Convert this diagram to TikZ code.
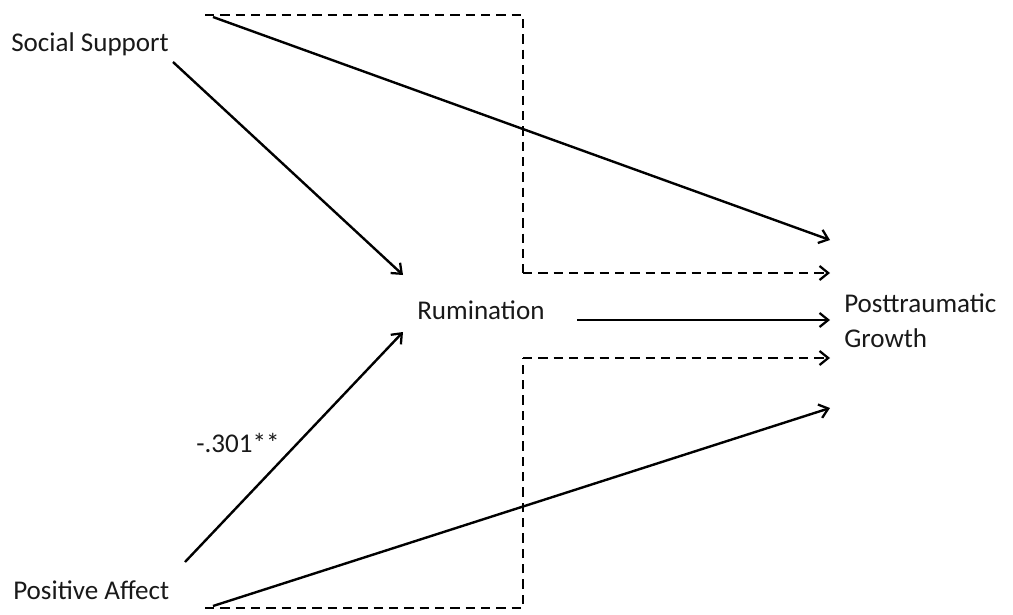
\documentclass[tikz,border=0pt]{standalone}
\usepackage{fontspec}
\setmainfont{Carlito}
\usetikzlibrary{arrows.meta}
\begin{document}
\begin{tikzpicture}[x=0.75pt,y=-0.75pt,
  lbl/.style={font=\fontsize{20.3}{24}\selectfont, text=black!90, inner sep=0pt},
  tip/.style={-{Straight Barb[length=6.5pt,width=10.5pt,line width=1.7pt]}},
  arr/.style={line width=1.8pt, tip},
  dline/.style={line width=1.8pt, dash pattern=on 7pt off 4.5pt}]
\useasboundingbox (0,0) rectangle (1013,614);
% labels
\node[lbl, anchor=west] (ss) at (11,44) {Social Support};
\node[lbl, anchor=west] (pa) at (13,590) {Positive Affect};
\node[lbl, anchor=west] (ru) at (417,310) {Rumination};
\node[lbl, anchor=west, align=left] (ptg) at (844,321) {Posttraumatic\\[2pt]Growth};
\node[lbl, anchor=west] (coef) at (196,443) {-.301**};
% connector endpoints
\coordinate (ssA) at (173,62);
\coordinate (ssB) at (213,17);
\coordinate (ssD) at (205,15);
\coordinate (tc) at (523,15);
\coordinate (tb) at (523,273);
\coordinate (paA) at (185,562);
\coordinate (paB) at (213,606);
\coordinate (paD) at (205,608);
\coordinate (bc) at (523,608);
\coordinate (bt) at (523,358);
\coordinate (ruOut) at (577,320);
\coordinate (ruIn1) at (403,275);
\coordinate (ruIn2) at (403,332);
\coordinate (pIn1) at (830,240);
\coordinate (pIn2) at (830,273);
\coordinate (pIn3) at (830,320);
\coordinate (pIn4) at (830,358);
\coordinate (pIn5) at (830,408);
% solid arrows
\draw[arr] (ssA) -- (ruIn1);
\draw[arr] (ssB) -- (pIn1);
\draw[arr] (paA) -- (ruIn2);
\draw[arr] (paB) -- (pIn5);
\draw[arr] (ruOut) -- (pIn3);
% dashed paths
\draw[dline] (ssD) -- (tc) -- (tb);
\draw[dline, tip] (tb) -- (pIn2);
\draw[dline] (paD) -- (bc) -- (bt);
\draw[dline, tip] (bt) -- (pIn4);
\end{tikzpicture}
\end{document}
